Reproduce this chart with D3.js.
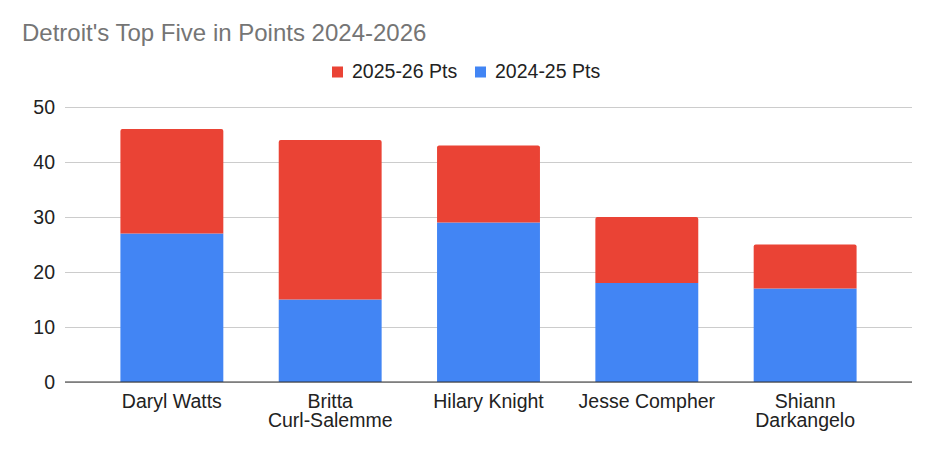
<!DOCTYPE html>
<html>
<head>
<meta charset="utf-8">
<script src="https://cdn.jsdelivr.net/npm/d3@7"></script>
<style>
  html, body { margin: 0; padding: 0; background: #fff; }
  svg { display: block; font-family: "Liberation Sans", Arial, sans-serif; }
</style>
</head>
<body>
<svg id="chart" width="935" height="452"></svg>
<script>
// chart data
var players = [["Daryl Watts"], ["Britta", "Curl-Salemme"], ["Hilary Knight"], ["Jesse Compher"], ["Shiann", "Darkangelo"]];
var pts2425 = [27, 15, 29, 18, 17];
var pts2526 = [19, 29, 14, 12, 8];
var yTicks = [0, 10, 20, 30, 40, 50];
var seriesNames = ["2025-26 Pts", "2024-25 Pts"];
var seriesColors = ["#ea4335", "#4285f4"];

(function () {
    var svg = d3.select("#chart");
    var plotLeft = 65, plotRight = 912, plotTop = 107, plotBottom = 382;

    var x = d3.scaleBand()
        .domain(d3.range(players.length))
        .range([plotLeft, plotRight])
        .padding(0.35);

    var y = d3.scaleLinear()
        .domain([0, 50])
        .range([plotBottom, plotTop]);

    // title
    svg.append("text")
        .attr("x", 22)
        .attr("y", 41)
        .attr("fill", "#757575")
        .style("font-size", "24px")
        .text("Detroit's Top Five in Points 2024-2026");

    // legend
    var legendX = [332, 475];
    seriesNames.forEach(function (name, i) {
        svg.append("rect")
            .attr("x", legendX[i]).attr("y", 66.5)
            .attr("width", 11).attr("height", 11)
            .attr("fill", seriesColors[i]);
        svg.append("text")
            .attr("x", legendX[i] + 20).attr("y", 77.5)
            .attr("fill", "#222")
            .style("font-size", "19.5px")
            .text(name);
    });

    // gridlines + y labels
    var yAxis = d3.axisLeft(y).tickValues(yTicks).tickSize(-(plotRight - plotLeft)).tickPadding(10);
    var gy = svg.append("g").attr("transform", "translate(" + plotLeft + ",0)").call(yAxis);
    gy.select(".domain").remove();
    gy.selectAll(".tick line").attr("stroke", "#cccccc").attr("shape-rendering", "crispEdges");
    gy.selectAll(".tick text").attr("fill", "#222").style("font-size", "19.5px")
        .style("font-family", "Liberation Sans, Arial, sans-serif").attr("dy", "0.34em");

    // stacked bars
    var bars = svg.append("g");
    players.forEach(function (p, i) {
        var bx = x(i), bw = x.bandwidth();
        bars.append("rect")
            .attr("x", bx).attr("width", bw)
            .attr("y", y(pts2425[i]))
            .attr("height", y(0) - y(pts2425[i]))
            .attr("fill", seriesColors[1]);
        var t = y(pts2425[i] + pts2526[i]), b = y(pts2425[i]), r = 2;
        bars.append("path")
            .attr("d", "M" + bx + "," + b + "V" + (t + r) + "Q" + bx + "," + t + " " + (bx + r) + "," + t +
                "H" + (bx + bw - r) + "Q" + (bx + bw) + "," + t + " " + (bx + bw) + "," + (t + r) + "V" + b + "Z")
            .attr("fill", seriesColors[0]);
    });

    // baseline
    svg.append("line")
        .attr("x1", plotLeft).attr("x2", plotRight)
        .attr("y1", y(0)).attr("y2", y(0))
        .attr("stroke", "#333").attr("stroke-width", 1.2);

    // x labels
    var gx = svg.append("g");
    players.forEach(function (lines, i) {
        var cx = x(i) + x.bandwidth() / 2;
        var txt = gx.append("text")
            .attr("x", cx)
            .attr("y", 407.5)
            .attr("text-anchor", "middle")
            .attr("fill", "#222")
            .style("font-size", "19.5px");
        lines.forEach(function (l, j) {
            txt.append("tspan").attr("x", cx).attr("dy", j === 0 ? 0 : 19.3).text(l);
        });
    });
})();
</script>
</body>
</html>
